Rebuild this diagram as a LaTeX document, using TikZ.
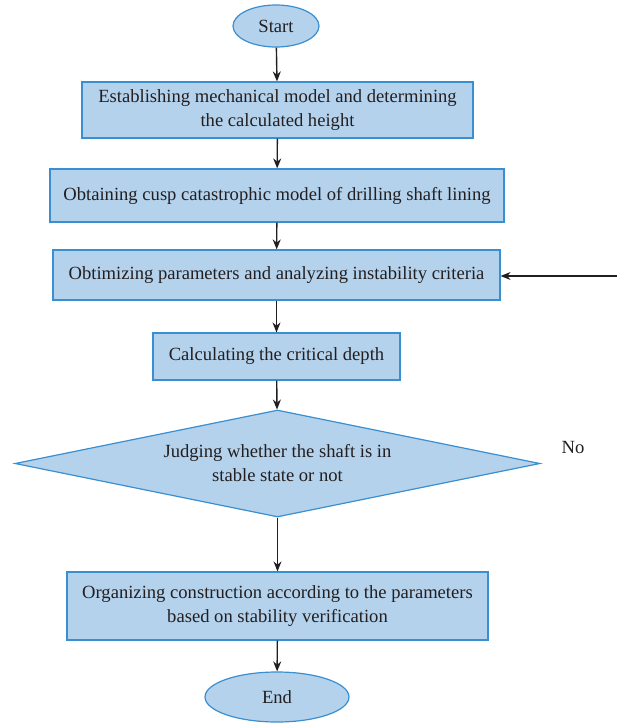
\documentclass[tikz,border=0pt]{standalone}
\usepackage{fontspec}
\setmainfont{Liberation Serif}
\usetikzlibrary{shapes.geometric,arrows.meta}
\definecolor{boxfill}{HTML}{B4D2EC}
\definecolor{boxline}{HTML}{3A8FD0}
\definecolor{ink}{HTML}{231F20}

\begin{document}
\begin{tikzpicture}[x=0.5pt,y=-0.5pt,
		every node/.style={text=ink,font=\fontsize{9.3}{12}\selectfont},
		block/.style={draw=boxline,fill=boxfill,line width=0.6pt,align=center,inner sep=0pt},
		term/.style={block,ellipse},
		judge/.style={block,diamond,aspect=4.9},
		flow/.style={-{Stealth[length=5pt,width=4pt]},draw=ink,line width=0.7pt}]
		\useasboundingbox (0,0) rectangle (617,725);
		%--start and end
		\node[term,minimum width=43pt,minimum height=21pt] (start) at (276,26) {Start};
		\node[term,minimum width=72pt,minimum height=25pt] (end) at (277,697) {End};
		
		%--process steps
		\node[block,minimum width=195.5pt,minimum height=28pt] (model) at (277.5,110) {Establishing mechanical model and determining\\the calculated height};
		\node[block,minimum width=227pt,minimum height=26.5pt] (cusp) at (277,195.5) {Obtaining cusp catastrophic model of drilling shaft lining};
		\node[block,minimum width=223.5pt,minimum height=25pt] (optim) at (276.5,275) {Obtimizing parameters and analyzing instability criteria};
		\node[block,minimum width=123.5pt,minimum height=23.5pt] (depth) at (276.5,356.5) {Calculating the critical depth};
		
		%--decision
		\node[judge,minimum width=262.5pt,minimum height=53.5pt] (stable) at (277.5,463.5) {Judging whether the shaft is in\\stable state or not};
		\node (no) at (573,447) {No};
		
		\node[block,minimum width=210.5pt,minimum height=34pt] (build) at (277.5,606) {Organizing construction according to the parameters\\based on stability verification};
		
		%--arrows
		\coordinate (feed) at (617,276);
		\draw[flow] (start) -- (model);
		\draw[flow] (model) -- (cusp);
		\draw[flow] (cusp) -- (optim);
		\draw[flow] (optim) -- (depth);
		\draw[flow] (depth) -- (stable);
		\draw[flow] (stable) -- (build);
		\draw[flow] (build) -- (end);
		\draw[flow] (feed) -- (optim.east |- feed);
	\end{tikzpicture}
\end{document}
